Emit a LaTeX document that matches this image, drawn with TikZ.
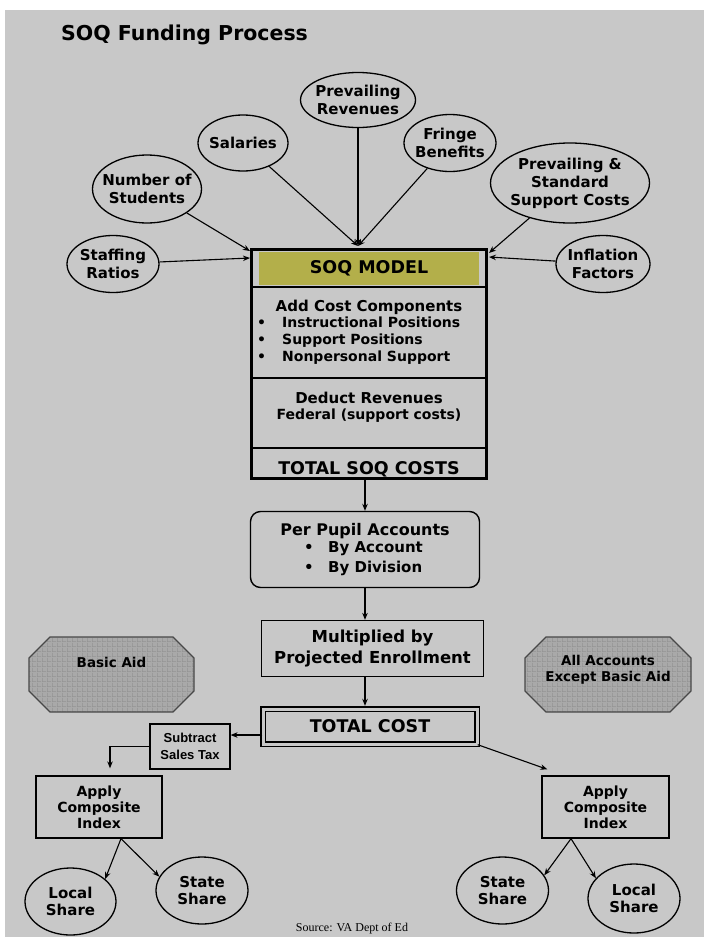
\documentclass[tikz,border=0pt]{standalone}
\usepackage{fontspec}
\setmainfont{DejaVu Sans}
\newfontfamily\narrowfont{Liberation Sans}
\newfontfamily\srcfont{Liberation Serif}
\usetikzlibrary{shapes.geometric,arrows.meta,patterns}
\definecolor{bggray}{HTML}{C8C8C8}
\definecolor{olivefill}{HTML}{B3AF4A}
\definecolor{octfill}{HTML}{A9A9A9}
\definecolor{octgrid}{HTML}{939393}
\definecolor{octline}{HTML}{484848}
\pgfdeclarepatternformonly{octgridpat}{\pgfqpoint{0pt}{0pt}}{\pgfqpoint{4.5pt}{4.5pt}}{\pgfqpoint{4.5pt}{4.5pt}}{%
  \pgfsetlinewidth{0.6pt}%
  \pgfpathmoveto{\pgfqpoint{0.3pt}{0pt}}\pgfpathlineto{\pgfqpoint{0.3pt}{4.5pt}}%
  \pgfpathmoveto{\pgfqpoint{0pt}{0.3pt}}\pgfpathlineto{\pgfqpoint{4.5pt}{0.3pt}}%
  \pgfusepath{stroke}}
\newcommand{\fs}[2]{\fontsize{#1}{#2}\selectfont\bfseries}
\tikzset{
  ell/.style={draw, ellipse, line width=1.3pt, inner sep=-15pt, align=center, font=\fs{15}{18}},
  conn/.style={line width=1.1pt, -{Stealth[length=7pt,width=5.5pt]}},
  boxnode/.style={draw, line width=1.3pt, align=center, inner sep=0pt},
  divider/.style={line width=2.5pt},
  octpath/.style={draw=octline, line width=1.3pt, preaction={fill=octfill}, pattern=octgridpat, pattern color=octgrid},
}
\begin{document}
\begin{tikzpicture}[x=1pt,y=-1pt]
\useasboundingbox (0,0) rectangle (704,937);
\fill[white] (0,0) rectangle (704,937);
\fill[bggray] (5,10) rectangle (704,937);

% title
\node[anchor=west, inner sep=0pt, font=\fs{20.5}{24}] (title) at (61,35) {SOQ Funding Process};

% input ellipses
\node[ell, minimum width=115pt, minimum height=55pt] (prev) at (358,100) {Prevailing\\Revenues};
\node[ell, minimum width=90pt, minimum height=56pt] (sal) at (243,143) {Salaries};
\node[ell, minimum width=92pt, minimum height=57pt] (fringe) at (450,143) {Fringe\\Benefits};
\node[ell, minimum width=109pt, minimum height=68pt] (stud) at (147,189) {Number of\\Students};
\node[ell, minimum width=159pt, minimum height=80pt] (psc) at (570,183) {Prevailing \&\\Standard\\Support Costs};
\node[ell, minimum width=92pt, minimum height=57pt] (staff) at (113,264) {Staffing\\Ratios};
\node[ell, minimum width=94pt, minimum height=57pt] (infl) at (603,264) {Inflation\\Factors};

% SOQ model box
\node[draw, line width=3pt, minimum width=235pt, minimum height=229pt, inner sep=0pt] (soq) at (369,364) {};
\node[fill=olivefill, minimum width=220pt, minimum height=33pt, inner sep=0pt, font=\fs{17.5}{20}] (hdr) at (369,268.5) {SOQ MODEL};
\draw[divider] (soq.west |- 0,287) -- (soq.east |- 0,287);
\draw[divider] (soq.west |- 0,378) -- (soq.east |- 0,378);
\draw[divider] (soq.west |- 0,448) -- (soq.east |- 0,448);
\node[inner sep=0pt, font=\fs{15}{18}] (addc) at (369,307) {Add Cost Components};
\node[anchor=west, align=left, inner sep=0pt, font=\fs{14}{17}] (items) at (257,341)
  {\makebox[25pt][l]{\textbullet}Instructional Positions\\
   \makebox[25pt][l]{\textbullet}Support Positions\\
   \makebox[25pt][l]{\textbullet}Nonpersonal Support};
\node[align=center, inner sep=0pt, font=\fs{15}{16}] (ded) at (369,407) {Deduct Revenues\\{\fs{14}{16}Federal (support costs)}};
\node[inner sep=0pt, font=\fs{17.5}{20}] (tsoq) at (369,469) {TOTAL SOQ COSTS};

% connectors into SOQ box
\coordinate (jtop) at (358,246);
\coordinate (jl1) at (250,251);
\coordinate (jl2) at (250,258);
\coordinate (jr1) at (489,253);
\coordinate (jr2) at (489,257);
\draw[conn] (prev) -- (jtop);
\draw[conn] (sal) -- (jtop);
\draw[conn] (fringe) -- (jtop);
\draw[conn] (stud) -- (jl1);
\draw[conn] (staff) -- (jl2);
\draw[conn] (psc) -- (jr1);
\draw[conn] (infl) -- (jr2);

% per pupil
\node[draw, rounded corners=10pt, line width=1.4pt, minimum width=229pt, minimum height=76pt, inner sep=0pt] (per) at (365,549.5) {};
\node[inner sep=0pt, font=\fs{16}{18}] (perh) at (365,531) {Per Pupil Accounts};
\node[anchor=west, align=left, inner sep=0pt, font=\fs{15}{20}] (perl) at (304,559)
  {\makebox[24pt][l]{\textbullet}By Account\\\makebox[24pt][l]{\textbullet}By Division};

% multiplied
\node[boxnode, minimum width=222pt, minimum height=56pt, font=\fs{16.5}{21}] (mult) at (372.5,648.5) {Multiplied by\\Projected Enrollment};

% total cost
\node[draw, double=bggray, double distance=3pt, line width=1.4pt, minimum width=214pt, minimum height=35pt, inner sep=0pt, font=\fs{17.5}{20}] (tc) at (370,726.5) {TOTAL COST};

% flow arrows
\draw[conn] (per.north |- soq.south) -- (per.north);
\draw[conn] (per.south) -- (per.south |- mult.north);
\draw[conn, shorten >=2.5pt] (per.south |- mult.south) -- (per.south |- tc.north);

% octagons
\draw[octpath] (50,637) -- (173,637) -- (194,658) -- (194,691) -- (173,712) -- (50,712) -- (29,691) -- (29,658) -- cycle;
\draw[octpath] (546,637) -- (670,637) -- (691,658) -- (691,691) -- (670,712) -- (546,712) -- (525,691) -- (525,658) -- cycle;
\node[inner sep=0pt, font=\fs{13.5}{16}] (basict) at (111.5,662) {Basic Aid};
\node[align=center, inner sep=0pt, font=\fs{13.5}{16}] (allt) at (608,670) {All Accounts\\Except Basic Aid};

% subtract sales tax
\node[boxnode, line width=1.2pt, minimum width=80pt, minimum height=45pt, font=\narrowfont\bfseries\fontsize{13}{17}\selectfont] (sub) at (190,746.5) {Subtract\\Sales Tax};

% apply composite index
\node[boxnode, minimum width=126pt, minimum height=62pt, font=\fs{14}{16}] (appL) at (99,807) {Apply\\Composite\\Index};
\node[boxnode, minimum width=127pt, minimum height=62pt, font=\fs{14}{16}] (appR) at (605.5,807) {Apply\\Composite\\Index};

% shares
\node[ell, minimum width=91pt, minimum height=67pt, font=\fs{15}{17}] (locL) at (70.5,901.5) {Local\\Share};
\node[ell, minimum width=92pt, minimum height=67pt, font=\fs{15}{17}] (staL) at (202,890.5) {State\\Share};
\node[ell, minimum width=92pt, minimum height=67pt, font=\fs{15}{17}] (staR) at (502.5,890.5) {State\\Share};
\node[ell, minimum width=92pt, minimum height=69pt, font=\fs{15}{17}] (locR) at (634,898.5) {Local\\Share};

% lower connectors
\coordinate (tcl) at ([yshift=-8.5pt]tc.west);
\draw[conn] (tcl) -- (tcl -| sub.east);
\draw[conn, shorten >=7pt] (sub.west) -| ([xshift=11pt]appL.north);
\draw[conn] (tc.south east) -- ([shift={(6pt,6pt)}]appR.north west);
\coordinate (bl) at ([xshift=22pt]appL.south);
\coordinate (br) at ([xshift=-34.5pt]appR.south);
\draw[conn] (bl) -- (locL.33);
\draw[conn] (bl) -- (staL.162);
\draw[conn] (br) -- (staR.20);
\draw[conn] (br) -- (locR.152);

% source
\node[inner sep=0pt, font=\srcfont\fontsize{12}{14}\selectfont] (src) at (352,929) {Source: VA Dept of Ed};
\end{tikzpicture}
\end{document}
